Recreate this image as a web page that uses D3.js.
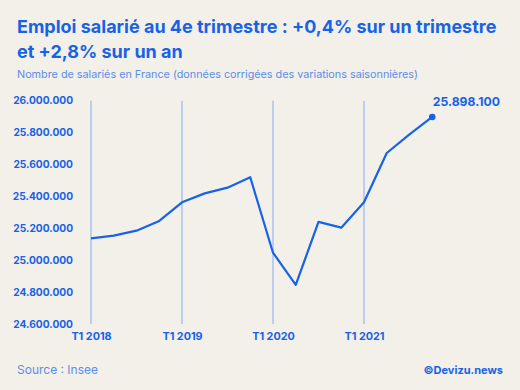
<!DOCTYPE html>
<html><head><meta charset="utf-8">
<script src="https://cdn.jsdelivr.net/npm/d3@7/dist/d3.min.js"></script>
<style>html,body{margin:0;padding:0;background:#f3f0ea;}svg{display:block;}</style>
</head><body>
<script>
const quarters = ["T1 2018","T2 2018","T3 2018","T4 2018","T1 2019","T2 2019","T3 2019","T4 2019","T1 2020","T2 2020","T3 2020","T4 2020","T1 2021","T2 2021","T3 2021","T4 2021"];
const salaries = [25137000,25154000,25185000,25246000,25363000,25419000,25455000,25520000,25047000,24845000,25240000,25204000,25363000,25672000,25789000,25898100];
const yTicks = [24600000,24800000,25000000,25200000,25400000,25600000,25800000,26000000];
const xTickLabels = ["T1 2018","T1 2019","T1 2020","T1 2021"];
const titleLines = ["Emploi salarié au 4e trimestre : +0,4% sur un trimestre","et +2,8% sur un an"];
const subtitle = "Nombre de salariés en France (données corrigées des variations saisonnières)";
const source = "Source : Insee";
const credit = "©Devizu.news";
const lastLabel = "25.898.100";

const W=520,H=390;
const blue="#1762e6", light="#a9c3f1", sub="#5b8ee8";
const font="Inter, 'Noto Sans', sans-serif";
const svg=d3.select("body").append("svg").attr("width",W).attr("height",H);
svg.append("rect").attr("width",W).attr("height",H).attr("fill","#f3f0ea");

const x=d3.scalePoint().domain(quarters).range([91,432.25]);
const y=d3.scaleLinear().domain([24600000,26000000]).range([324,100.7]);
const fmt=v=>d3.format(",")(v).replace(/,/g,".");

svg.selectAll("text.t").data(titleLines).join("text").attr("class","t")
 .attr("x",17).attr("y",(d,i)=>33+i*25).attr("font-family",font).attr("font-weight",700)
 .attr("font-size",18).attr("fill",blue).text(d=>d);
svg.append("text").attr("x",17).attr("y",78).attr("font-family",font).attr("font-size",10.8)
 .attr("fill",sub).text(subtitle);

// gridlines
svg.selectAll("line.g").data(xTickLabels).join("line").attr("class","g")
 .attr("x1",d=>x(d)).attr("x2",d=>x(d)).attr("y1",y(26000000)).attr("y2",y(24600000))
 .attr("stroke",light).attr("stroke-width",1.5);

// y axis
const ya=svg.append("g").attr("transform","translate(73,0)")
 .call(d3.axisLeft(y).tickValues(yTicks).tickFormat(fmt).tickSize(0).tickPadding(0));
ya.select(".domain").remove();
ya.selectAll("text").attr("font-family",font).attr("font-weight",700).attr("font-size",10.2).attr("fill",blue);

// x axis
const xa=svg.append("g").attr("transform","translate(0,332)")
 .call(d3.axisBottom(x).tickValues(xTickLabels).tickSize(0).tickPadding(0));
xa.select(".domain").remove();
xa.selectAll("text").attr("font-family",font).attr("font-weight",700).attr("font-size",10.8).attr("fill",blue).attr("dy","0.71em");

const line=d3.line().x((d,i)=>x(quarters[i])).y(d=>y(d));
svg.append("path").datum(salaries).attr("d",line).attr("fill","none").attr("stroke",blue)
 .attr("stroke-width",2.2).attr("stroke-linejoin","round");
const li=salaries.length-1;
svg.append("circle").attr("cx",x(quarters[li])).attr("cy",y(salaries[li])).attr("r",3.3).attr("fill",blue);
svg.append("text").attr("x",x(quarters[li])+0.5).attr("y",y(salaries[li])-10.5)
 .attr("font-family",font).attr("font-weight",700).attr("font-size",12.2).attr("fill",blue).text(lastLabel);

svg.append("text").attr("x",17).attr("y",374).attr("font-family",font).attr("font-size",12).attr("fill",sub).text(source);
svg.append("text").attr("x",503).attr("y",374).attr("text-anchor","end").attr("font-family",font).attr("font-weight",700).attr("font-size",11).attr("fill",blue).text(credit);
</script>
</body></html>
